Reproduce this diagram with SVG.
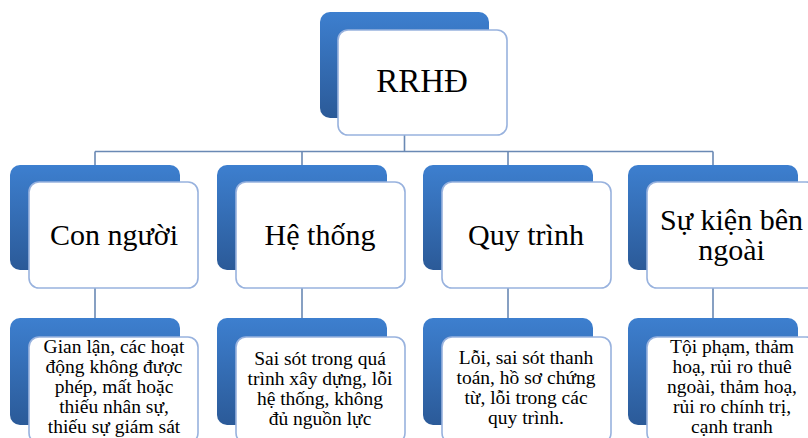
<svg xmlns="http://www.w3.org/2000/svg" width="808" height="438" viewBox="0 0 808 438">
<defs>
<linearGradient id="blue" x1="0" y1="0" x2="0" y2="1">
<stop offset="0" stop-color="#3d7fcf"/>
<stop offset="1" stop-color="#2b5a98"/>
</linearGradient>
</defs>
<style>
.back{fill:url(#blue);}
.front{fill:#ffffff;stroke:#98b2de;stroke-width:1.6;}
.conn{stroke:#6a89b4;stroke-width:1.6;fill:none;}
text{font-family:'Liberation Serif','Times New Roman',Tinos,'Noto Serif','DejaVu Serif',FreeSerif,serif;fill:#000;text-anchor:middle;}
.t1{font-size:33px;}
.t2{font-size:30px;}
.t3{font-size:19.5px;}
</style>
<rect width="808" height="438" fill="#ffffff"/>
<g id="connectors">
<path class="conn" d="M404.5 135 V151.5 M95 151.5 H713 M95 151.5 V165 M302 151.5 V165 M508 151.5 V165 M713 151.5 V165"/>
<path class="conn" d="M95 288 V318 M302 288 V318 M508 288 V318 M713 288 V318"/>
</g>
<g id="node-rrhd">
<rect class="back" x="320" y="12" width="169" height="106" rx="10"/>
<rect class="front" x="338" y="30" width="169" height="105" rx="10"/>
<text class="t1" x="422" y="92">RRHĐ</text>
</g>
<g id="node-con-nguoi">
<rect class="back" x="10" y="165" width="170" height="105" rx="10"/>
<rect class="front" x="29" y="182" width="169" height="106" rx="10"/>
<text class="t2" x="114" y="245">Con người</text>
</g>
<g id="node-he-thong">
<rect class="back" x="217" y="165" width="170" height="105" rx="10"/>
<rect class="front" x="236" y="182" width="169" height="106" rx="10"/>
<text class="t2" x="320" y="245">Hệ thống</text>
</g>
<g id="node-quy-trinh">
<rect class="back" x="423" y="165" width="170" height="105" rx="10"/>
<rect class="front" x="442" y="182" width="169" height="106" rx="10"/>
<text class="t2" x="526" y="245">Quy trình</text>
</g>
<g id="node-su-kien">
<rect class="back" x="628" y="165" width="170" height="105" rx="10"/>
<rect class="front" x="647" y="182" width="169" height="106" rx="10"/>
<text class="t2" x="731.5" y="230">Sự kiện bên</text>
<text class="t2" x="731.5" y="260">ngoài</text>
</g>
<g id="node-con-nguoi-detail">
<rect class="back" x="10" y="318" width="170" height="107" rx="10"/>
<rect class="front" x="29" y="337" width="169" height="106" rx="10"/>
<text class="t3" x="114" y="353">Gian lận, các hoạt</text>
<text class="t3" x="114" y="373">động không được</text>
<text class="t3" x="114" y="393">phép, mất hoặc</text>
<text class="t3" x="114" y="413">thiếu nhân sự,</text>
<text class="t3" x="114" y="433">thiếu sự giám sát</text>
</g>
<g id="node-he-thong-detail">
<rect class="back" x="217" y="318" width="170" height="107" rx="10"/>
<rect class="front" x="236" y="337" width="169" height="106" rx="10"/>
<text class="t3" x="320" y="365">Sai sót trong quá</text>
<text class="t3" x="320" y="385">trình xây dựng, lỗi</text>
<text class="t3" x="320" y="405">hệ thống, không</text>
<text class="t3" x="320" y="425">đủ nguồn lực</text>
</g>
<g id="node-quy-trinh-detail">
<rect class="back" x="423" y="318" width="170" height="107" rx="10"/>
<rect class="front" x="442" y="337" width="169" height="106" rx="10"/>
<text class="t3" x="526" y="364">Lỗi, sai sót thanh</text>
<text class="t3" x="526" y="384">toán, hồ sơ chứng</text>
<text class="t3" x="526" y="404">từ, lỗi trong các</text>
<text class="t3" x="526" y="424">quy trình.</text>
</g>
<g id="node-su-kien-detail">
<rect class="back" x="628" y="318" width="170" height="107" rx="10"/>
<rect class="front" x="647" y="337" width="169" height="106" rx="10"/>
<text class="t3" x="732" y="353">Tội phạm, thảm</text>
<text class="t3" x="732" y="373">hoạ, rủi ro thuê</text>
<text class="t3" x="732" y="393">ngoài, thảm hoạ,</text>
<text class="t3" x="732" y="413">rủi ro chính trị,</text>
<text class="t3" x="732" y="433">cạnh tranh</text>
</g>
</svg>
